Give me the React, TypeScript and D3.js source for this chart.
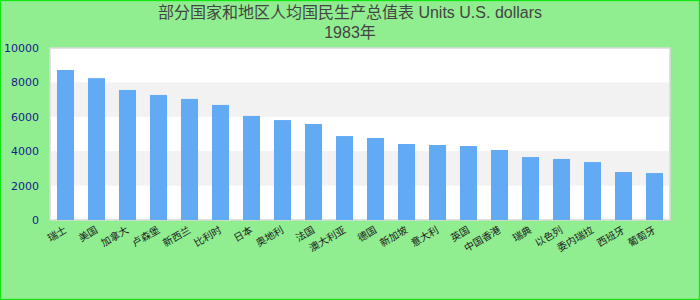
import React from "react";
import * as d3 from "d3";

const titleLine1 = "部分国家和地区人均国民生产总值表 Units U.S. dollars";
const titleLine2 = "1983年";

const countries = [
  "瑞士", "美国", "加拿大", "卢森堡", "新西兰", "比利时", "日本", "奥地利", "法国", "澳大利亚",
  "德国", "新加坡", "意大利", "英国", "中国香港", "瑞典", "以色列", "委内瑞拉", "西班牙", "葡萄牙",
];
const values = [
  8720, 8250, 7560, 7270, 7040, 6690, 6050, 5810, 5580, 4880,
  4770, 4420, 4360, 4300, 4070, 3660, 3550, 3370, 2790, 2730,
];
const yTicks = [0, 2000, 4000, 6000, 8000, 10000];

const W = 700;
const H = 300;
const M = { left: 50, right: 30, top: 48, bottom: 80 };

export default function App() {
  const x = d3
    .scaleBand<string>()
    .domain(countries)
    .range([M.left, W - M.right])
    .paddingInner(0.45)
    .paddingOuter(0.225);
  const y = d3.scaleLinear().domain([0, 10000]).range([H - M.bottom, M.top]);
  const plotW = W - M.right - M.left;

  const bands = d3.range(0, yTicks.length - 1);

  return (
    <svg
      width={W}
      height={H}
      style={{ position: "absolute", left: 0, top: 0 }}
      fontFamily="'Liberation Sans', 'Noto Sans CJK SC', sans-serif"
    >
      <rect x={0.5} y={0.5} width={W - 1} height={H - 1} fill="#90ee90" stroke="#11e611" strokeWidth={1.3} />
      <text x={W / 2} y={18} textAnchor="middle" fontSize={16} fill="#444">
        {titleLine1}
      </text>
      <text x={W / 2} y={38} textAnchor="middle" fontSize={16} fill="#444">
        {titleLine2}
      </text>

      <rect x={M.left} y={M.top} width={plotW} height={y(0) - M.top} fill="#fff" />
      {bands.map((i) =>
        i % 2 === 1 ? (
          <rect
            key={i}
            x={M.left}
            y={y(yTicks[i + 1])}
            width={plotW}
            height={y(yTicks[i]) - y(yTicks[i + 1])}
            fill="#f2f2f2"
          />
        ) : null
      )}
      <rect
        x={M.left}
        y={M.top}
        width={plotW}
        height={y(0) - M.top}
        fill="none"
        stroke="#d9d9d9"
        strokeWidth={1.5}
      />

      {countries.map((c, i) => (
        <rect
          key={c}
          x={x(c)}
          y={y(values[i])}
          width={x.bandwidth()}
          height={y(0) - y(values[i])}
          fill="#63aaf5"
        />
      ))}

      {yTicks.map((t) => (
        <text
          key={t}
          x={39}
          y={y(t) + 4}
          textAnchor="end"
          fontSize={11}
          fontFamily="'DejaVu Sans', sans-serif"
          fill="#1a1a8c"
        >
          {t}
        </text>
      ))}

      {countries.map((c) => {
        const cx = (x(c) ?? 0) + x.bandwidth() / 2 + 2;
        const cy = 232;
        return (
          <text
            key={c}
            x={cx}
            y={cy}
            textAnchor="end"
            fontSize={10}
            fill="#222"
            transform={`rotate(-30, ${cx}, ${cy})`}
          >
            {c}
          </text>
        );
      })}
    </svg>
  );
}
